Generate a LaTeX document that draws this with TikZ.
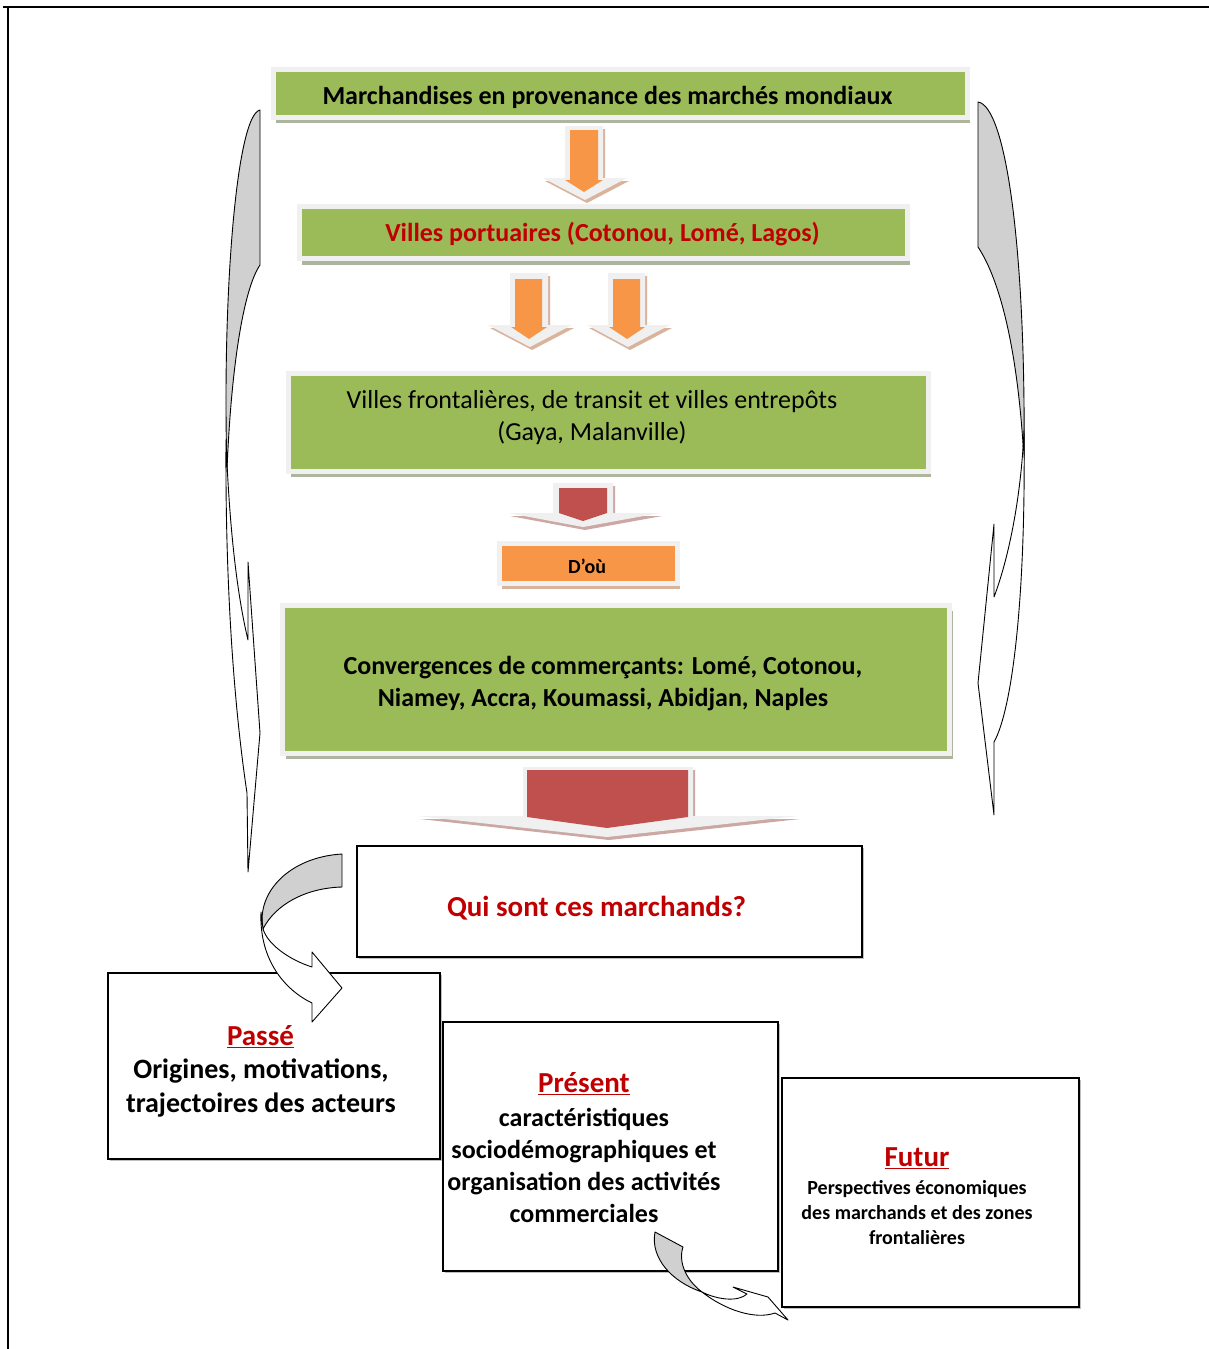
\documentclass[tikz,border=0pt]{standalone}
\usepackage{fontspec}
\setmainfont{Carlito}
\usetikzlibrary{shadows}
\definecolor{gr}{HTML}{9BBB59}
\definecolor{lightb}{HTML}{F0F0F0}
\definecolor{gshad}{HTML}{AEB59E}
\definecolor{orng}{HTML}{F79646}
\definecolor{oshad}{HTML}{D9B39B}
\definecolor{redA}{HTML}{C0504D}
\definecolor{rshad}{HTML}{CBA8A3}
\definecolor{dred}{HTML}{C00000}
\definecolor{bgray}{HTML}{D0D0D0}
\tikzset{
  gbox/.style={fill=gr, draw=lightb, line width=5pt,
    drop shadow={shadow xshift=3pt, shadow yshift=-6pt, fill=gshad, opacity=1}},
  obox/.style={fill=orng, draw=lightb, line width=5pt,
    drop shadow={shadow xshift=3pt, shadow yshift=-6pt, fill=oshad, opacity=1}},
  wbox/.style={fill=white, draw=black, line width=2.5pt,
    drop shadow={shadow xshift=1.5pt, shadow yshift=-1.5pt, fill=gray!50, opacity=1}},
  curv/.style={draw=black, line width=0.9pt, line join=round},
  txt/.style={align=center, inner sep=0pt},
  bold26/.style={txt, font=\fontsize{26}{32}\selectfont\bfseries},
}
\begin{document}
\begin{tikzpicture}[x=1pt,y=-1pt]
\useasboundingbox (0,0) rectangle (1209,1349);
\fill[white] (0,0) rectangle (1209,1349);
% outer frame
\draw[line width=1.3pt] (3,7) -- (1209,7);
\draw[line width=1.3pt] (8,7) -- (8,1349);

% left bracket arrow
\filldraw[curv, fill=bgray] (260,110) -- (260,265) .. controls (243,290) and (231,370) .. (227,470)
   .. controls (222,300) and (236,115) .. (260,110) -- cycle;
\filldraw[curv, fill=white] (226,440) .. controls (225,600) and (236,720) .. (247,793) -- (248,872) -- (260,733)
   -- (248,562) -- (248,640) .. controls (236,590) and (229,520) .. (226,440) -- cycle;
% right bracket arrow
\filldraw[curv, fill=bgray] (978,102) -- (978,247) .. controls (1000,280) and (1018,350) .. (1024,460)
   .. controls (1026,250) and (1006,106) .. (978,102) -- cycle;
\filldraw[curv, fill=white] (1024,430) .. controls (1026,600) and (1012,710) .. (994,742) -- (994,815) -- (978,683)
   -- (994,524) -- (994,597) .. controls (1008,560) and (1021,500) .. (1024,430) -- cycle;

% green boxes
\node[gbox, minimum width=694pt, minimum height=48pt] (b1) at (620,93) {};
\node[gbox, minimum width=608pt, minimum height=52pt] (b2) at (603,232.5) {};
\node[gbox, minimum width=640pt, minimum height=98pt] (b3) at (608,422) {};
\node[obox, minimum width=178pt, minimum height=40pt] (b4) at (588,563) {};
\node[gbox, minimum width=667pt, minimum height=148pt] (b5) at (616,679) {};

% block arrows
\fill[oshad] (567,129) -- (605,129) -- (605,181) -- (629,181) -- (587,203) -- (545,181) -- (567,181) -- cycle;
\fill[lightb] (565,126) -- (603,126) -- (603,178) -- (627,178) -- (585,200) -- (543,178) -- (565,178) -- cycle;
\fill[orng] (570,130) -- (598,130) -- (598,180) -- (603,180) -- (584,192) -- (565,180) -- (570,180) -- cycle;

\fill[oshad] (512,276) -- (550,276) -- (550,328) -- (574,328) -- (532,350) -- (490,328) -- (512,328) -- cycle;
\fill[lightb] (510,273) -- (548,273) -- (548,325) -- (572,325) -- (530,347) -- (488,325) -- (510,325) -- cycle;
\fill[orng] (515,279) -- (542,279) -- (542,327) -- (547,327) -- (529,339) -- (511,327) -- (515,327) -- cycle;

\fill[oshad] (610,276) -- (647,276) -- (647,328) -- (672,328) -- (630,350) -- (589,328) -- (610,328) -- cycle;
\fill[lightb] (608,273) -- (645,273) -- (645,325) -- (670,325) -- (628,347) -- (587,325) -- (608,325) -- cycle;
\fill[orng] (613,279) -- (640,279) -- (640,327) -- (645,327) -- (627,339) -- (609,327) -- (613,327) -- cycle;

\fill[rshad] (555,486) -- (615,486) -- (615,516) -- (662,516) -- (585,530) -- (510,516) -- (555,516) -- cycle;
\fill[lightb] (553,483) -- (613,483) -- (613,513) -- (660,513) -- (583,527) -- (508,513) -- (553,513) -- cycle;
\fill[redA] (559,488) -- (607,488) -- (607,513) -- (583,521) -- (559,513) -- cycle;

\fill[rshad] (525,770) -- (695,770) -- (695,819) -- (800,819) -- (609,840) -- (420,819) -- (525,819) -- cycle;
\fill[lightb] (523,767) -- (693,767) -- (693,816) -- (798,816) -- (607,837) -- (418,816) -- (523,816) -- cycle;
\fill[redA] (527,770) -- (688,770) -- (688,817) -- (607,828) -- (527,817) -- cycle;

% white boxes
\node[wbox, minimum width=505pt, minimum height=111pt] (q) at (609.5,901.5) {};
\node[wbox, minimum width=332pt, minimum height=186pt] (pa) at (274,1066) {};
\node[wbox, minimum width=335pt, minimum height=249pt] (pr) at (610.5,1146.5) {};
\node[wbox, minimum width=297pt, minimum height=229pt] (fu) at (930.5,1192.5) {};

% texts
\node[bold26] (t1) at (607.5,97) {Marchandises en provenance des marchés mondiaux};
\node[bold26, text=dred] (t2) at (602.5,234) {Villes portuaires (Cotonou, Lomé, Lagos)};
\node[txt, font=\fontsize{26}{32}\selectfont] (t3) at (592,418) {Villes frontalières, de transit et villes entrepôts\\(Gaya, Malanville)};
\node[txt, font=\fontsize{20}{24}\selectfont\bfseries] (t4) at (587,566) {D’où};
\node[bold26] (t5) at (603,684) {Convergences de commerçants: Lomé, Cotonou,\\Niamey, Accra, Koumassi, Abidjan, Naples};
\node[txt, font=\fontsize{29}{35}\selectfont\bfseries, text=dred] (tq) at (596.5,908) {Qui sont ces marchands?};

\node[txt, font=\fontsize{29}{35}\selectfont\bfseries, text=dred] (tpa) at (260.5,1037) {\underline{Passé}};
\node[txt, font=\fontsize{28}{34}\selectfont\bfseries] (tpab) at (261,1088) {Origines, motivations,\\trajectoires des acteurs};
\node[txt, font=\fontsize{29}{35}\selectfont\bfseries, text=dred] (tpr) at (584,1084) {\underline{Présent}};
\node[txt, font=\fontsize{26}{32}\selectfont\bfseries] (tprb) at (584,1165) {caractéristiques\\sociodémographiques et\\organisation des activités\\commerciales};
\node[txt, font=\fontsize{29}{35}\selectfont\bfseries, text=dred] (tfu) at (917,1158) {\underline{Futur}};
\node[txt, font=\fontsize{20}{25}\selectfont\bfseries] (tfub) at (917,1213) {Perspectives économiques\\des marchands et des zones\\frontalières};

% curved arrow to Passé
\filldraw[curv, fill=bgray] (342,854) -- (342,887) .. controls (305,888) and (275,905) .. (263,929)
   .. controls (256,892) and (290,857) .. (342,854) -- cycle;
\filldraw[curv, fill=white] (261,912) .. controls (259,960) and (285,990) .. (312,1003) -- (312,1022) -- (342,988)
   -- (312,952) -- (312,967) .. controls (290,960) and (268,945) .. (263,929) -- cycle;
% small curved arrow to Futur
\filldraw[curv, fill=bgray] (655,1232) -- (683,1247) .. controls (678,1262) and (686,1280) .. (702,1292)
   .. controls (672,1282) and (650,1258) .. (655,1232) -- cycle;
\filldraw[curv, fill=white] (702,1292) .. controls (725,1310) and (755,1320) .. (775,1313) -- (788,1320) -- (768,1297)
   -- (733,1287) -- (747,1294) .. controls (738,1302) and (718,1300) .. (702,1292) -- cycle;
\end{tikzpicture}
\end{document}
